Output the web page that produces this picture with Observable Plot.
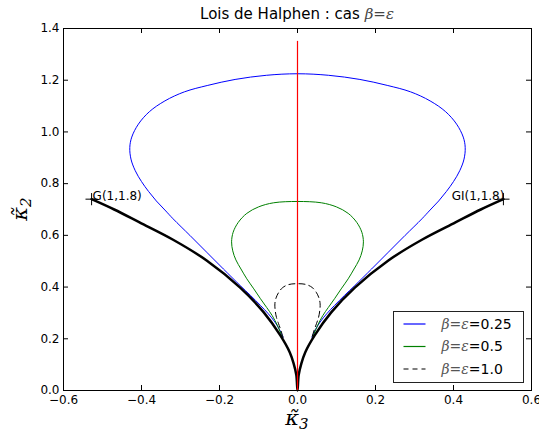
<!DOCTYPE html>
<html><head><meta charset="utf-8">
<script src="https://cdn.jsdelivr.net/npm/d3@7"></script>
<script src="https://cdn.jsdelivr.net/npm/@observablehq/plot@0.6"></script>
<style>body{margin:0;background:#fff}svg{display:block}</style>
</head><body><div id="chart"></div>
<script>
// ---- data ----
const xTicks = [-0.6, -0.4, -0.2, 0.0, 0.2, 0.4, 0.6];
const yTicks = [0.0, 0.2, 0.4, 0.6, 0.8, 1.0, 1.2, 1.4];

// Gamma boundary, right branch (k3 >= 0); left branch is its mirror
const gammaK3 = [0, 0.003, 0.01, 0.02, 0.044, 0.087, 0.147, 0.233, 0.319, 0.405, 0.47, 0.528];
const gammaK2 = [0, 0.06, 0.105, 0.148, 0.213, 0.303, 0.398, 0.503, 0.583, 0.65, 0.70, 0.74];

// Loops, right half from the top down to the junction with the boundary
const loop025K3 = [0, 0.08, 0.16, 0.23, 0.29, 0.34, 0.38, 0.408, 0.425, 0.430, 0.427, 0.416, 0.400, 0.382, 0.362, 0.340, 0.319, 0.276, 0.233, 0.190, 0.147, 0.120, 0.095, 0.075, 0.058, 0.046, 0.037];
const loop025K2 = [1.225, 1.219, 1.203, 1.180, 1.155, 1.120, 1.078, 1.030, 0.980, 0.940, 0.895, 0.850, 0.808, 0.770, 0.733, 0.698, 0.664, 0.600, 0.535, 0.470, 0.406, 0.367, 0.329, 0.297, 0.265, 0.235, 0.206];
const loop05K3 = [0, 0.061, 0.100, 0.130, 0.152, 0.165, 0.169, 0.166, 0.158, 0.145, 0.130, 0.112, 0.095, 0.079, 0.065, 0.051, 0.039];
const loop05K2 = [0.731, 0.726, 0.710, 0.685, 0.650, 0.612, 0.575, 0.540, 0.505, 0.470, 0.432, 0.393, 0.355, 0.321, 0.290, 0.250, 0.206];
const loop10K3 = [0, 0.022, 0.038, 0.048, 0.055, 0.058, 0.057, 0.054, 0.049, 0.044, 0.037];
const loop10K2 = [0.413, 0.410, 0.398, 0.380, 0.358, 0.335, 0.308, 0.283, 0.260, 0.239, 0.206];

const endK3 = [-0.528, 0.528];
const endK2 = [0.74, 0.74];
const endLabels = ["G(1,1.8)", "GI(1,1.8)"];

const axisK3 = [0, 0];      // red vertical line k3 = 0
const axisK2 = [0, 1.35];
const seriesNames = ["0.25", "0.5", "1.0"];
const seriesColors = ["#0000ff", "#008000", "#000000"];

// ---- build tables ----
function halves(k3, k2, name) {
  const left = k3.map((v, i) => ({x: -v, y: k2[i], s: name})).reverse();
  const right = k3.map((v, i) => ({x: v, y: k2[i], s: name})).slice(1);
  return left.concat(right);
}
const gamma = halves(gammaK3, gammaK2, "gamma");
const l1 = halves(loop025K3, loop025K2, seriesNames[0]);
const l2 = halves(loop05K3, loop05K2, seriesNames[1]);
const l3 = halves(loop10K3, loop10K2, seriesNames[2]);
const ends = endK3.map((v, i) => ({x: v, y: endK2[i], t: endLabels[i]}));
const axisLine = axisK3.map((v, i) => ({x: v, y: axisK2[i]}));

const W = 539, H = 431, mT = 28, mB = 41, mL = 63, mR = 8;
const pw = W - mL - mR, ph = H - mT - mB;
const fmt = d3.format(".1f");

const chart = Plot.plot({
  width: W, height: H,
  marginTop: mT, marginBottom: mB, marginLeft: mL, marginRight: mR,
  style: {fontFamily: "DejaVu Sans", fontSize: "12px", background: "#fff", color: "#000", overflow: "visible"},
  x: {domain: [-0.6, 0.6]},
  y: {domain: [0, 1.4]},
  marks: [
    Plot.axisX({ticks: xTicks, tickSize: 0, tickPadding: 5, tickFormat: fmt, label: null, fontSize: 12}),
    Plot.axisY({ticks: yTicks, tickSize: 0, tickPadding: 4, tickFormat: fmt, label: null, fontSize: 12}),
    Plot.tickX(xTicks, {x: d => d, insetTop: ph - 5, stroke: "black"}),
    Plot.tickX(xTicks, {x: d => d, insetBottom: ph - 5, stroke: "black"}),
    Plot.tickY(yTicks, {y: d => d, insetRight: pw - 5, stroke: "black"}),
    Plot.tickY(yTicks, {y: d => d, insetLeft: pw - 5, stroke: "black"}),
    Plot.line(l1, {x: "x", y: "y", stroke: seriesColors[0], strokeWidth: 1, curve: "catmull-rom"}),
    Plot.line(l2, {x: "x", y: "y", stroke: seriesColors[1], strokeWidth: 1, curve: "catmull-rom"}),
    Plot.line(l3, {x: "x", y: "y", stroke: seriesColors[2], strokeWidth: 1, strokeDasharray: "6,4", curve: "catmull-rom"}),
    Plot.line(gamma, {x: "x", y: "y", stroke: "black", strokeWidth: 2.5, curve: "catmull-rom"}),
    Plot.dot(ends, {x: "x", y: "y", symbol: "plus", r: 4, stroke: "black", strokeWidth: 1}),
    Plot.text(ends.slice(0, 1), {x: "x", y: "y", text: "t", textAnchor: "start", lineAnchor: "bottom", dx: 1, dy: 1, fontSize: 12, fill: "black"}),
    Plot.text(ends.slice(1), {x: "x", y: "y", text: "t", textAnchor: "end", lineAnchor: "bottom", dx: 1, dy: 1, fontSize: 12, fill: "black"}),
    Plot.line(axisLine, {x: "x", y: "y", stroke: "#ff0000", strokeWidth: 1.2}),
    Plot.frame({stroke: "black", strokeWidth: 1})
  ]
});
document.getElementById("chart").append(chart);

const svg = d3.select(chart);
const mathFont = "DejaVu Serif";
// title
const title = svg.append("text").attr("x", mL + pw / 2).attr("y", 19)
  .attr("text-anchor", "middle").attr("font-family", "DejaVu Sans").attr("font-size", 15).attr("fill", "black");
title.append("tspan").text("Lois de Halphen : cas ");
title.append("tspan").attr("font-family", mathFont).attr("font-style", "italic").attr("fill", "#444").text("β");
title.append("tspan").attr("font-family", mathFont).attr("fill", "#444").text("=");
title.append("tspan").attr("font-family", mathFont).attr("font-style", "italic").attr("fill", "#444").text("ε");

// axis labels
function kappa(sel, sub) {
  sel.attr("font-family", mathFont).attr("font-style", "italic").attr("font-size", 21).attr("fill", "black");
  sel.append("tspan").text("κ̃");
  sel.append("tspan").attr("font-size", 15).attr("dy", 4).text(sub);
}
kappa(svg.append("text").attr("x", mL + pw / 2).attr("y", H - 6).attr("text-anchor", "middle"), "3");
kappa(svg.append("text").attr("transform", `translate(27,${mT + ph / 2}) rotate(-90)`).attr("text-anchor", "middle"), "2");

// legend
const lg = svg.append("g").attr("transform", "translate(393.5,311.5)");
lg.append("rect").attr("width", 130).attr("height", 71).attr("fill", "white").attr("stroke", "#222").attr("stroke-width", 1);
seriesNames.forEach((n, i) => {
  const y = 12.5 + i * 22.5;
  lg.append("path").attr("d", `M10,${y}H32`).attr("fill", "none")
    .style("stroke", seriesColors[i]).style("stroke-width", "1.2px")
    .style("stroke-dasharray", i === 2 ? "5,4" : "none");
  const t = lg.append("text").attr("x", 48).attr("y", y + 4.5).attr("text-anchor", "start")
    .attr("font-family", "DejaVu Sans").attr("font-size", 14).attr("fill", "black");
  t.append("tspan").attr("font-family", mathFont).attr("font-style", "italic").attr("fill", "#555").text("β");
  t.append("tspan").attr("font-family", mathFont).attr("fill", "#555").text("=");
  t.append("tspan").attr("font-family", mathFont).attr("font-style", "italic").attr("fill", "#555").text("ε");
  t.append("tspan").text("=" + n);
});
</script></body></html>
